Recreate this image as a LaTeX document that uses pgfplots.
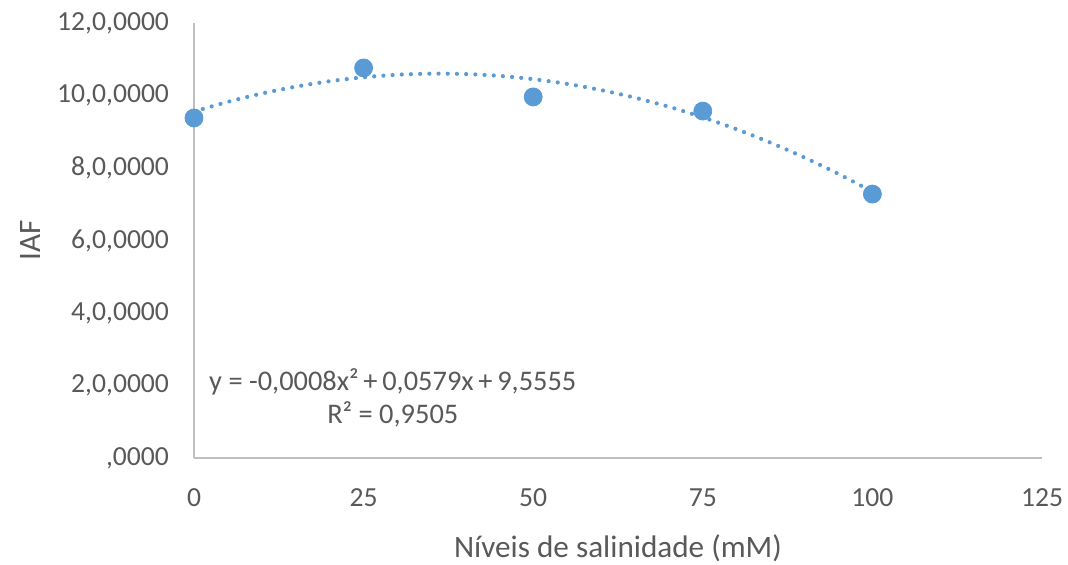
\documentclass[border=0pt]{standalone}
\usepackage{pgfplots}
\pgfplotsset{compat=1.18}
\usepackage{fontspec}
\setmainfont{Carlito}
\definecolor{ptblue}{HTML}{5B9BD5}
\definecolor{axgray}{HTML}{BFBFBF}
\definecolor{txtgray}{HTML}{595959}
\begin{document}
\begin{tikzpicture}
\useasboundingbox (-96pt,-53.5pt) rectangle (438pt,229pt);
\begin{axis}[
  at={(1pt,0)}, anchor=south west,
  scale only axis, width=424pt, height=217.5pt,
  xmin=0, xmax=125, ymin=0, ymax=12,
  axis lines*=left,
  axis line style={axgray, line width=1.2pt, -},
  xtick={0,25,50,75,100,125},
  xticklabels={0,25,50,75,100,125},
  ytick={0,2,4,6,8,10,12},
  yticklabels={{,0000},{2,0,0000},{4,0,0000},{6,0,0000},{8,0,0000},{10,0,0000},{12,0,0000}},
  major tick length=0pt,
  tick label style={font=\fontsize{13.8}{16}\selectfont, text=txtgray},
  xticklabel style={yshift=-12pt},
  yticklabel style={xshift=-9pt},
  xlabel={Níveis de salinidade (mM)},
  ylabel={IAF},
  label style={font=\fontsize{15.6}{18}\selectfont, text=txtgray},
  xlabel style={at={(axis description cs:0.5,0)}, anchor=center, yshift=-45pt},
  every axis y label/.append style={at={(axis description cs:-0.193,0.5)}, anchor=center},
  clip=false,
]
\addplot[ptblue, line width=2.1pt, line cap=round, dash pattern=on 0pt off 4.6pt, smooth] coordinates {
(0,9.5555) (5,9.8250) (10,10.0545) (15,10.2440) (20,10.3935) (25,10.5030)
(30,10.5725) (35,10.6020) (40,10.5915) (45,10.5410) (50,10.4505) (55,10.3200)
(60,10.1495) (65,9.9390) (70,9.6885) (75,9.3980) (80,9.0675) (85,8.6970)
(90,8.2865) (95,7.8360) (100,7.3455)
};
\addplot[only marks, mark=*, mark size=4.5pt, mark options={fill=ptblue, draw=ptblue}] coordinates {
(0,9.38) (25,10.76) (50,9.96) (75,9.57) (100,7.28)
};
\node[align=center, text=txtgray, font=\fontsize{14.2}{16.5}\selectfont] at (axis cs:29.3,1.66)
  {y = -0,0008x²\,+\,0,0579x\,+\,9,5555\\R² = 0,9505};
\end{axis}
\end{tikzpicture}
\end{document}
